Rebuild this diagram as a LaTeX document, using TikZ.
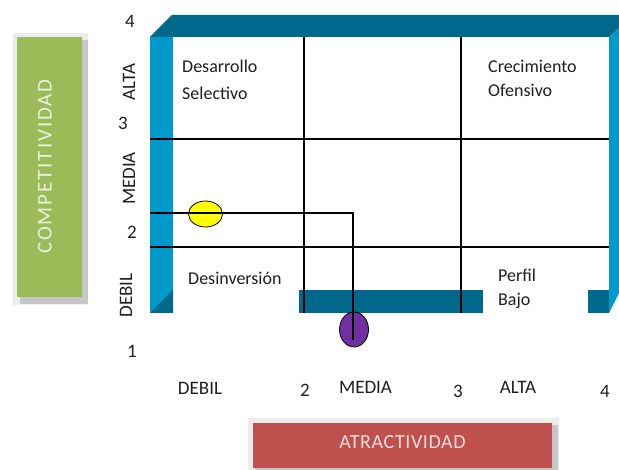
\documentclass[tikz,border=0pt]{standalone}
\usepackage{fontspec}
\setmainfont{Carlito}
\usetikzlibrary{shapes.geometric}
\definecolor{frDark}{RGB}{0,104,139}
\definecolor{frLight}{RGB}{0,153,204}
\definecolor{boxGreen}{RGB}{155,187,89}
\definecolor{boxRed}{RGB}{192,80,77}
\definecolor{ptPurple}{RGB}{112,48,160}
\definecolor{ptYellow}{RGB}{255,255,0}
\definecolor{labcol}{RGB}{30,30,35}
\definecolor{txtGreen}{RGB}{235,241,222}
\definecolor{txtRed}{RGB}{242,220,219}
\begin{document}
\begin{tikzpicture}[x=1pt,y=-1pt,
  axlab/.style={font=\fontsize{19}{22}\selectfont,text=labcol,inner sep=0pt,anchor=base},
  cell/.style={font=\fontsize{18}{22}\selectfont,text=labcol,inner sep=0pt,anchor=base west},
  gridline/.style={line width=1.3pt,black},
  ptmark/.style={ellipse,draw=black,line width=0.8pt,inner sep=0pt},
  shadowlight/.style={fill=gray!15},
  shadowdark/.style={fill=gray!45},
]
\useasboundingbox (0,0) rectangle (619,470);
% green axis box
\fill[shadowlight] (13,33) rectangle (88,305);
\fill[shadowdark] (20,40) rectangle (88,304);
\fill[boxGreen] (17,37) rectangle (82,297);
\node[rotate=90, text=txtGreen, inner sep=0pt,
  font=\fontsize{21}{24}\selectfont\addfontfeature{LetterSpace=9}] (comp) at (45,166.5) {COMPETITIVIDAD};
% red axis box
\fill[shadowlight] (248,418) rectangle (559,470);
\fill[shadowdark] (255,425) rectangle (558,470);
\fill[boxRed] (253,423) rectangle (552,468);
\node[anchor=base, text=txtRed, inner sep=0pt,
  font=\fontsize{20}{24}\selectfont\addfontfeature{LetterSpace=3}] (atr) at (402.5,449) {ATRACTIVIDAD};
% frame
\fill[frDark] (150,37) -- (172,15) -- (619,15) -- (619,28) -- (609,37) -- cycle;
\fill[frLight] (150,37) rectangle (173,313);
\fill[frDark] (150,313) -- (173,290) -- (173,313) -- cycle;
\fill[frLight] (609,37) -- (619,28) -- (619,293) -- (609,313) -- cycle;
\fill[frDark] (299,290) rectangle (483,313);
\fill[frDark] (588,290) rectangle (609,313);
% grid
\draw[gridline] (304,37) -- (304,313);
\draw[gridline] (461,37) -- (461,313);
\draw[gridline] (150,139) -- (609,139);
\draw[gridline] (150,247) -- (609,247);
% points
\node[ptmark, fill=ptYellow, minimum width=34pt, minimum height=26pt] (yel) at (205.5,214) {};
\node[ptmark, fill=ptPurple, minimum width=29pt, minimum height=35pt] (pur) at (354,329.5) {};
\coordinate (pstart) at (150,213);
\coordinate (pturn) at (353,213);
\coordinate (pend) at (353,340);
\draw[gridline] (pstart) -- (pturn) -- (pend);
% cell labels
\node[cell] (c1a) at (182,73) {Desarrollo};
\node[cell] (c1b) at (182,100) {Selectivo};
\node[cell] (c2a) at (488,73) {Crecimiento};
\node[cell] (c2b) at (488,97) {Ofensivo};
\node[cell] (c3) at (188,285) {Desinversión};
\node[cell] (c4a) at (498,282) {Perfil};
\node[cell] (c4b) at (498,306) {Bajo};
% vertical axis labels
\node[axlab] (n4) at (130,28) {4};
\node[axlab,rotate=90] (la) at (135,82) {ALTA};
\node[axlab] (n3) at (123,130) {3};
\node[axlab,rotate=90] (lm) at (135,178.5) {MEDIA};
\node[axlab] (n2) at (132,239) {2};
\node[axlab,rotate=90] (ld) at (132,295.5) {DEBIL};
\node[axlab] (n1) at (132,358) {1};
% horizontal axis labels
\node[axlab] (bd) at (200,395) {DEBIL};
\node[axlab] (b2) at (305,397) {2};
\node[axlab] (bm) at (365.5,394) {MEDIA};
\node[axlab] (b3) at (458,398) {3};
\node[axlab] (ba) at (518,394) {ALTA};
\node[axlab] (b4) at (605,398) {4};
\end{tikzpicture}
\end{document}
